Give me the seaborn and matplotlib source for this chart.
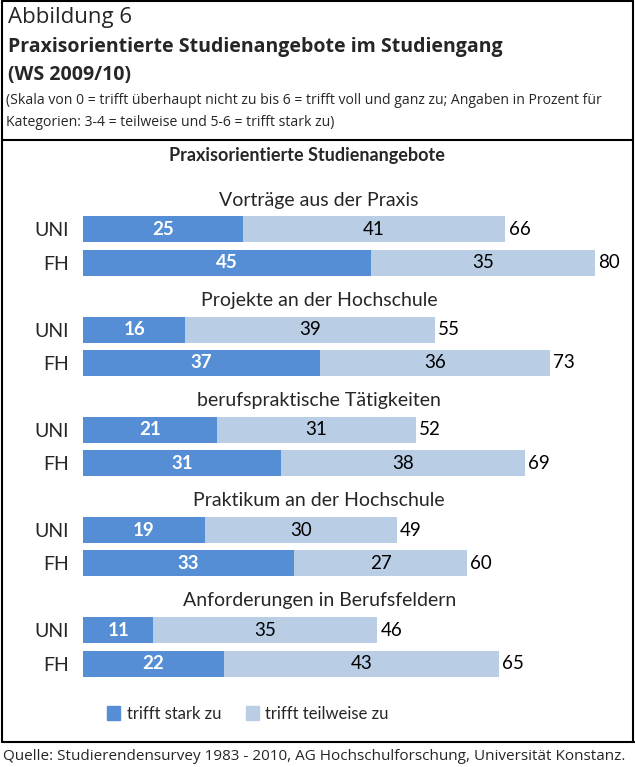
import pandas as pd
import seaborn as sns
import matplotlib.pyplot as plt
from matplotlib.lines import Line2D
from matplotlib.patches import Rectangle

sns.set_theme(style="white")
plt.rcParams["font.family"] = ["Lato", "DejaVu Sans"]

# Daten
themen = ["Vorträge aus der Praxis", "Projekte an der Hochschule",
          "berufspraktische Tätigkeiten", "Praktikum an der Hochschule",
          "Anforderungen in Berufsfeldern"]
uni_stark = [25, 16, 21, 19, 11]
uni_teil = [41, 39, 31, 30, 35]
fh_stark = [45, 37, 31, 33, 22]
fh_teil = [35, 36, 38, 27, 43]

dunkel = "#558ED5"
hell = "#B9CDE5"

rows = []
order = []
ticklabels = []
for i, t in enumerate(themen):
    order += [f"t{i}", f"UNI{i}", f"FH{i}"]
    ticklabels += ["", "UNI", "FH"]
    rows.append({"slot": f"UNI{i}", "stark": uni_stark[i], "teil": uni_teil[i]})
    rows.append({"slot": f"FH{i}", "stark": fh_stark[i], "teil": fh_teil[i]})
df = pd.DataFrame(rows)
df["gesamt"] = df["stark"] + df["teil"]

W, H = 635, 767
fig = plt.figure(figsize=(W / 100, H / 100), dpi=100)
kopf = ["Open Sans", "DejaVu Sans"]

# Achse für die Balken
top_px, bot_px = 179.3, 680.3
ax = fig.add_axes([83 / W, 1 - bot_px / H, 544 / W, (bot_px - top_px) / H])
sns.barplot(data=df, x="gesamt", y="slot", order=order, color=hell,
            saturation=1, width=0.78, orient="h", ax=ax, linewidth=0)
sns.barplot(data=df, x="stark", y="slot", order=order, color=dunkel,
            saturation=1, width=0.78, orient="h", ax=ax, linewidth=0)
ax.set_xlim(0, 85)
ax.set_ylim(14.5, -0.5)
ax.set_yticks(range(len(order)))
ax.set_yticklabels(ticklabels, fontsize=14)
ax.tick_params(axis="y", length=0, pad=10)
ax.set_xticks([])
ax.set_xlabel("")
ax.set_ylabel("")
for s in ax.spines.values():
    s.set_visible(False)
ax.patch.set_alpha(0)

for _, r in df.iterrows():
    y = order.index(r["slot"])
    ax.text(r["stark"] / 2, y, str(r["stark"]), ha="center", va="center",
            color="white", fontsize=13.5, fontweight="bold")
    ax.text(r["stark"] + r["teil"] / 2, y, str(r["teil"]), ha="center",
            va="center", color="black", fontsize=13.5)
    ax.text(r["gesamt"] + 0.5, y, str(r["gesamt"]), ha="left",
            va="center", color="black", fontsize=13.5)

for i, t in enumerate(themen):
    ax.text(36.9, 3 * i + 0.12, t, ha="center", va="center", fontsize=14)

# Kopfzeile
fig.text(8 / W, 1 - 18 / H, "Abbildung 6", fontsize=16, va="center", family=kopf)
fig.text(8 / W, 1 - 47 / H, "Praxisorientierte Studienangebote im Studiengang",
         fontsize=14, fontweight="bold", va="center", family=kopf)
fig.text(8 / W, 1 - 75 / H, "(WS 2009/10)", fontsize=14, fontweight="bold",
         va="center", family=kopf)
fig.text(6 / W, 1 - 101 / H,
         "(Skala von 0 = trifft überhaupt nicht zu bis 6 = trifft voll und ganz zu; Angaben in Prozent für",
         fontsize=10.1, va="center", family=kopf)
fig.text(6 / W, 1 - 122 / H,
         "Kategorien: 3-4 = teilweise und 5-6 = trifft stark zu)",
         fontsize=10.1, va="center", family=kopf)

fig.text(307 / W, 1 - 155 / H, "Praxisorientierte Studienangebote",
         fontsize=13, fontweight="bold", ha="center", va="center")

# Legende
fig.add_artist(Rectangle((107 / W, 1 - 720 / H), 13 / W, 14 / H,
                         transform=fig.transFigure, color=dunkel))
fig.text(127 / W, 1 - 714 / H, "trifft stark zu", fontsize=12, va="center")
fig.add_artist(Rectangle((246 / W, 1 - 720 / H), 13 / W, 14 / H,
                         transform=fig.transFigure, color=hell))
fig.text(265 / W, 1 - 714 / H, "trifft teilweise zu", fontsize=12, va="center")

# Quelle
fig.text(3 / W, 1 - 757 / H,
         "Quelle: Studierendensurvey 1983 - 2010, AG Hochschulforschung, Universität Konstanz.",
         fontsize=11, va="center", family=kopf)

# Rahmen
def linie(x0, y0, x1, y1):
    fig.add_artist(Line2D([x0 / W, x1 / W], [1 - y0 / H, 1 - y1 / H],
                          transform=fig.transFigure, color="black", lw=1.5))

linie(2, 1, 633, 1)
linie(2, 1, 2, 742)
linie(633, 1, 633, 742)
linie(2, 140, 633, 140)
linie(2, 742, 635, 742)

fig.savefig("out.png", dpi=100)
